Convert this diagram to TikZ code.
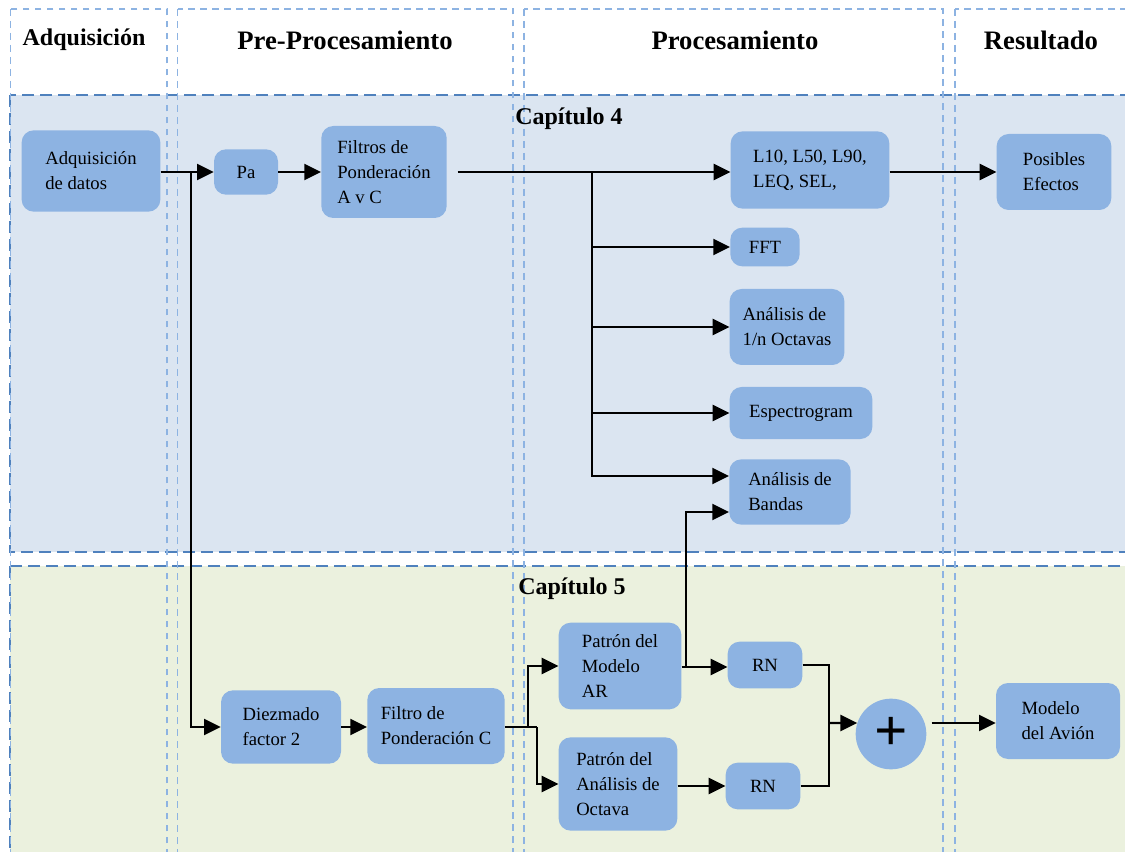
\documentclass[tikz,border=0pt]{standalone}
\usepackage{fontspec}
\setmainfont{Liberation Serif}
\usetikzlibrary{arrows.meta}

\definecolor{boxblue}{HTML}{8DB3E2}
\definecolor{bandblue}{HTML}{DBE5F1}
\definecolor{bandgreen}{HTML}{EBF1DE}
\definecolor{edgeblue}{HTML}{4F81BD}
\definecolor{colline}{HTML}{8DB3E2}

\begin{document}
\begin{tikzpicture}[x=0.75pt, y=-0.75pt,
    blk/.style={fill=boxblue, rounded corners=9pt, align=left, inner sep=2pt,
        font=\fontsize{14}{18.75}\selectfont},
    arr/.style={-{Triangle[length=12.5pt,width=12pt]}, line width=1.6pt},
    wire/.style={line width=1.6pt},
    band/.style={draw=edgeblue, line width=1.5pt, dash pattern=on 9pt off 4.5pt},
    colframe/.style={draw=colline, line width=1.1pt, dash pattern=on 5pt off 4pt},
    head/.style={font=\fontsize{20}{24}\selectfont\bfseries},
    chap/.style={font=\fontsize{18}{22}\selectfont\bfseries}]
        \useasboundingbox (0,0) rectangle (1125,852);
        \clip (0,0) rectangle (1125,852);
        \fill[white] (0,0) rectangle (1125,852);
        % bands
        \fill[bandblue] (10,95) rectangle (1140,552);
        \draw[band] (10,95) rectangle (1140,552);
        \fill[bandgreen] (10,566) rectangle (1140,900);
        \draw[band] (10,566) rectangle (1140,900);
        % columns
        \draw[colframe] (10.7,9) rectangle (167,900);
        \draw[colframe] (177.5,9) rectangle (513,900);
        \draw[colframe] (524,9) rectangle (943,900);
        \draw[colframe] (955,9) rectangle (1140,900);
        % titles
        \node[head, font=\fontsize{18}{22}\selectfont\bfseries] (hadq) at (84,40) {Adquisición};
        \node[head] (hpre) at (345,40) {Pre-Procesamiento};
        \node[head] (hproc) at (735,40) {Procesamiento};
        \node[head] (hres) at (1041,40) {Resultado};
        \node[chap] (cap4) at (569,119) {Capítulo 4};
        \node[chap] (cap5) at (572,589) {Capítulo 5};
        % Capitulo 4
        \node[blk, minimum width=104pt, minimum height=61pt] (adq) at (91,171) {Adquisición\\de datos};
        \node[blk, minimum width=48pt, minimum height=34pt] (pa) at (246,172) {Pa};
        \node[blk, minimum width=94pt, minimum height=69pt] (filt) at (384,172) {Filtros de\\Ponderación\\A v C};
        \node[blk, minimum width=119pt, minimum height=58pt] (niv) at (810,170) {L10, L50, L90,\\LEQ, SEL,};
        \node[blk, minimum width=86pt, minimum height=57pt] (efec) at (1054,172) {Posibles\\Efectos};
        \node[blk, minimum width=52pt, minimum height=29pt] (fft) at (765,247) {FFT};
        \node[blk, minimum width=86pt, minimum height=57pt] (octa) at (787,327) {Análisis de\\1/n Octavas};
        \node[blk, minimum width=107pt, minimum height=39pt] (espec) at (801,413) {Espectrogram};
        \node[blk, minimum width=91pt, minimum height=49pt] (band) at (790,492) {Análisis de\\Bandas};
        % Capitulo 5
        \node[blk, minimum width=90pt, minimum height=55pt] (diez) at (281,727) {Diezmado\\factor 2};
        \node[blk, minimum width=103pt, minimum height=57pt] (filc) at (436,726) {Filtro de\\Ponderación C};
        \node[blk, minimum width=92pt, minimum height=65pt] (ar) at (620,666) {Patrón del\\Modelo\\AR};
        \node[blk, minimum width=89pt, minimum height=70pt] (patoct) at (618,784) {Patrón del\\Análisis de\\Octava};
        \node[blk, minimum width=56pt, minimum height=35pt] (rna) at (765,665) {RN};
        \node[blk, minimum width=56pt, minimum height=35pt] (rnb) at (763,786) {RN};
        \node[circle, fill=boxblue, minimum size=53pt, inner sep=0pt,
            font=\fontsize{44}{44}\selectfont\bfseries] (suma) at (891,734) {+};
        \node[blk, minimum width=93pt, minimum height=57pt] (avion) at (1058,721) {Modelo\\del Avión};
        % junctions
        \coordinate (j1) at (191,172);
        \coordinate (t1) at (592,172);
        \coordinate (s1) at (528,727);
        \coordinate (s2) at (537,727);
        \coordinate (b1) at (686,667);
        \coordinate (m1) at (829,723);
        % connectors
        \draw[arr] (adq.east |- pa.west) -- (pa.west);
        \draw[arr] (pa) -- (filt);
        \draw[arr] ([xshift=8pt]filt.east) -- (filt.east -| niv.west);
        \draw[arr] (niv.east |- efec.west) -- (efec.west);
        \draw[arr] (t1) |- (fft.west);
        \draw[arr] (t1) |- (octa.west);
        \draw[arr] (t1) |- (espec.west);
        \draw[arr] (t1) |- ([yshift=12pt]band.west);
        \draw[arr] (j1) |- (diez.west);
        \draw[arr] (diez.east) -- (diez.east -| filc.west);
        \draw[wire] (filc.east |- s2) -- (s2);
        \draw[arr] (s1) |- (ar.west);
        \draw[arr] (s2) |- (patoct.west);
        \draw[arr] (ar.east |- b1) -- (b1 -| rna.west);
        \draw[arr] (b1) |- ([yshift=-15pt]band.west);
        \draw[arr] (patoct.east |- rnb.west) -- (rnb.west);
        \draw[wire] (rna.east) -| (m1);
        \draw[wire] (rnb.east) -| (m1);
        \draw[arr] (m1) -- (suma.162);
        \draw[arr] ([xshift=5pt]suma.18) -- (suma.18 -| avion.west);
\end{tikzpicture}
\end{document}
